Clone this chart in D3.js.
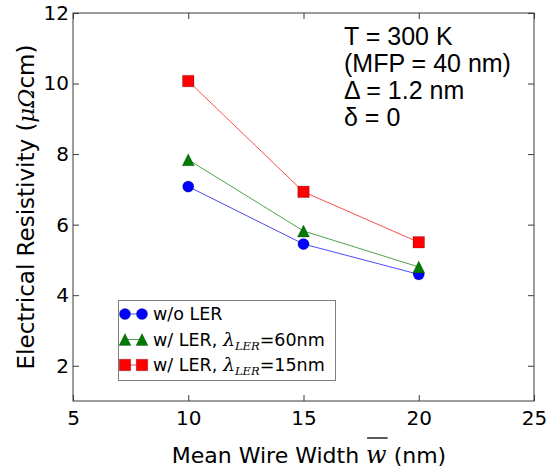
<!DOCTYPE html>
<html>
<head>
<meta charset="utf-8">
<script src="https://cdn.jsdelivr.net/npm/d3@7"></script>
<style>
  html, body { margin: 0; padding: 0; background: #fff; }
  svg { display: block; }
</style>
</head>
<body>
<svg id="chart" width="552" height="472"></svg>
<script>
// Mean wire width (nm)
const widths = [10, 15, 20];
// Electrical resistivity (µΩcm) for each roughness case
const rhoNoLER = [7.08, 5.45, 4.59];
const rhoLER60 = [7.84, 5.82, 4.80];
const rhoLER15 = [10.07, 6.93, 5.50];

const xTicks = [5, 10, 15, 20, 25];
const yTicks = [2, 4, 6, 8, 10, 12];

const seriesNames = ["w/o LER", "w/ LER, ", "w/ LER, "];
const seriesLambda = [null, "=60nm", "=15nm"];
const seriesColors = ["#0000ff", "#007a00", "#ff0000"];
const seriesShapes = ["circle", "triangle", "square"];
const seriesValues = [rhoNoLER, rhoLER60, rhoLER15];

const noteLines = ["T = 300 K", "(MFP = 40 nm)", "\u0394 = 1.2 nm", "\u03b4 = 0"];

const svg = d3.select("#chart");
const plot = { left: 73, right: 534, top: 13, bottom: 401 };

const x = d3.scaleLinear().domain([5, 25]).range([plot.left, plot.right]);
const y = d3.scaleLinear().domain([1, 12]).range([plot.bottom, plot.top]);

const sans = "'DejaVu Sans', sans-serif";
const serif = "'DejaVu Serif', 'Liberation Serif', serif";
const axisColor = "#3a3a3a";
const tickLen = 6;

// Frame
svg.append("rect")
  .attr("x", plot.left).attr("y", plot.top)
  .attr("width", plot.right - plot.left).attr("height", plot.bottom - plot.top)
  .attr("fill", "none").attr("stroke", axisColor).attr("stroke-width", 1);

// Axes with inward ticks on all four sides
function styleAxis(g) {
  g.select(".domain").remove();
  g.selectAll(".tick line").attr("stroke", axisColor).attr("stroke-width", 1);
  g.selectAll(".tick text").attr("fill", "#000").style("font-family", sans).style("font-size", "20px");
}

svg.append("g").attr("transform", `translate(0,${plot.bottom})`)
  .call(d3.axisBottom(x).tickValues(xTicks).tickSizeInner(-tickLen).tickSizeOuter(0).tickPadding(10).tickFormat(d3.format("d")))
  .call(styleAxis);
svg.append("g").attr("transform", `translate(0,${plot.top})`)
  .call(d3.axisTop(x).tickValues(xTicks).tickSizeInner(-tickLen).tickSizeOuter(0).tickFormat(""))
  .call(styleAxis);
svg.append("g").attr("transform", `translate(${plot.left},0)`)
  .call(d3.axisLeft(y).tickValues(yTicks).tickSizeInner(-tickLen).tickSizeOuter(0).tickPadding(4).tickFormat(d3.format("d")))
  .call(styleAxis);
svg.append("g").attr("transform", `translate(${plot.right},0)`)
  .call(d3.axisRight(y).tickValues(yTicks).tickSizeInner(-tickLen).tickSizeOuter(0).tickFormat(""))
  .call(styleAxis);

// Marker symbols
const symbolFor = {
  circle: d3.symbol().type(d3.symbolCircle).size(Math.PI * 5.6 * 5.6),
  square: d3.symbol().type(d3.symbolSquare).size(11.5 * 11.5),
};
function trianglePath(s) {
  const h = s / 2;
  return `M0,${-h}L${h},${h}L${-h},${h}Z`;
}
function markerPath(shape) {
  if (shape === "triangle") return trianglePath(12);
  return symbolFor[shape]();
}

// Series lines and markers
const line = d3.line().x((d, i) => x(widths[i])).y(d => y(d));
seriesValues.forEach((vals, k) => {
  svg.append("path")
    .attr("d", line(vals))
    .attr("fill", "none")
    .attr("stroke", seriesColors[k])
    .attr("stroke-opacity", 0.7)
    .attr("stroke-width", 1);
  svg.append("g").selectAll("path")
    .data(vals)
    .join("path")
    .attr("transform", (d, i) => `translate(${x(widths[i])},${y(d)})`)
    .attr("d", markerPath(seriesShapes[k]))
    .attr("fill", seriesColors[k])
    .attr("stroke", "#000").attr("stroke-opacity", 0.35).attr("stroke-width", 0.6);
});

// Legend
const legend = svg.append("g");
legend.append("rect")
  .attr("x", 118.5).attr("y", 300.5).attr("width", 217).attr("height", 80)
  .attr("fill", "#fff").attr("stroke", "#808080").attr("stroke-width", 1);
const rowY = [314, 339.5, 365];
seriesNames.forEach((name, k) => {
  const cy = rowY[k];
  legend.append("line")
    .attr("x1", 125).attr("x2", 142).attr("y1", cy).attr("y2", cy)
    .attr("stroke", seriesColors[k]).attr("stroke-opacity", 0.7).attr("stroke-width", 1);
  [125, 142].forEach(cx => {
    legend.append("path")
      .attr("transform", `translate(${cx},${cy})`)
      .attr("d", markerPath(seriesShapes[k]))
      .attr("fill", seriesColors[k])
      .attr("stroke", "#000").attr("stroke-opacity", 0.35).attr("stroke-width", 0.6);
  });
  const t = legend.append("text")
    .attr("x", 153).attr("y", cy + 6)
    .style("font-family", sans).style("font-size", "17.5px").attr("fill", "#000");
  t.append("tspan").text(name);
  if (seriesLambda[k]) {
    t.append("tspan").style("font-family", serif).style("font-style", "italic")
      .style("font-size", "19px").text("\u03bb");
    t.append("tspan").style("font-family", serif).style("font-style", "italic")
      .style("font-size", "11.5px").attr("dy", 4).text("LER");
    t.append("tspan").attr("dy", -4).text(seriesLambda[k]);
  }
});

// Conditions note
const note = svg.append("text")
  .style("font-family", "'Liberation Sans', Arial, sans-serif")
  .style("font-size", "25px").attr("fill", "#000");
noteLines.forEach((s, i) => {
  note.append("tspan").attr("x", 344).attr("y", 45 + i * 27).text(s);
});

// X axis title with overlined mean width symbol
const xTitle = svg.append("text")
  .attr("text-anchor", "middle")
  .attr("x", 309).attr("y", 463)
  .style("font-family", sans).style("font-size", "22px").attr("fill", "#000");
xTitle.append("tspan").text("Mean Wire Width ");
xTitle.append("tspan").style("font-family", serif).style("font-style", "italic")
  .style("font-size", "24px").text("w");
xTitle.append("tspan").text(" (nm)");
{
  const node = xTitle.node();
  const idx = "Mean Wire Width ".length;
  const p0 = node.getStartPositionOfChar(idx);
  const p1 = node.getEndPositionOfChar(idx);
  svg.append("line")
    .attr("x1", p0.x + 1).attr("x2", p1.x + 1).attr("y1", 438).attr("y2", 438)
    .attr("stroke", "#000").attr("stroke-width", 1.3);
}

// Y axis title
const yTitle = svg.append("text")
  .attr("text-anchor", "middle")
  .attr("transform", "translate(34,207) rotate(-90)")
  .style("font-family", sans).style("font-size", "23px").attr("fill", "#000");
yTitle.append("tspan").text("Electrical Resistivity (");
yTitle.append("tspan").style("font-family", serif).style("font-style", "italic").text("\u03bc\u03a9");
yTitle.append("tspan").text("cm)");
</script>
</body>
</html>
